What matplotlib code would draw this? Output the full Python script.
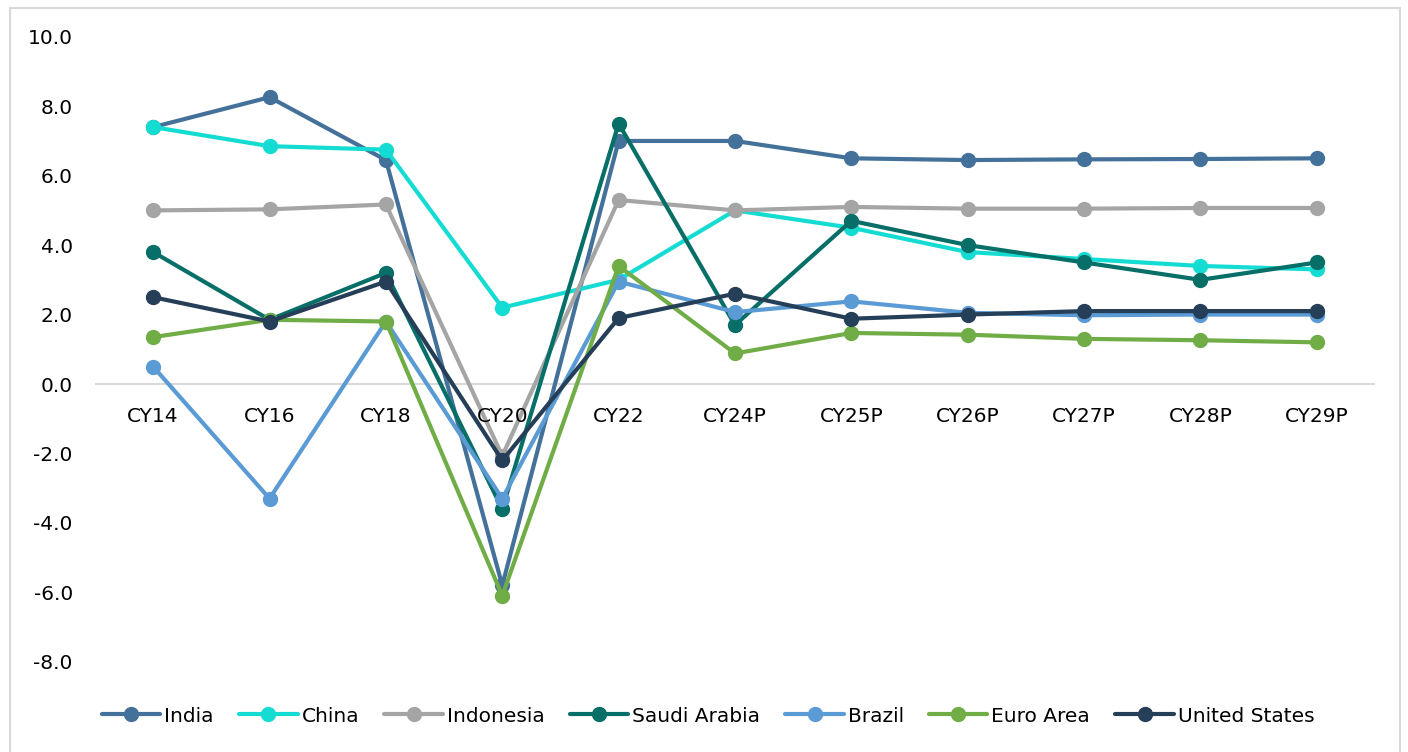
import matplotlib
matplotlib.use("Agg")
import matplotlib.pyplot as plt
from matplotlib.patches import Rectangle

categories = ["CY14", "CY16", "CY18", "CY20", "CY22", "CY24P", "CY25P", "CY26P", "CY27P", "CY28P", "CY29P"]
india = [7.4, 8.26, 6.45, -5.8, 7.0, 7.0, 6.5, 6.45, 6.47, 6.48, 6.5]
china = [7.4, 6.85, 6.75, 2.2, 3.0, 5.0, 4.5, 3.8, 3.6, 3.4, 3.3]
indonesia = [5.0, 5.03, 5.17, -2.07, 5.3, 5.0, 5.1, 5.05, 5.05, 5.07, 5.07]
saudi = [3.8, 1.85, 3.2, -3.6, 7.5, 1.7, 4.7, 4.0, 3.5, 3.0, 3.5]
brazil = [0.5, -3.3, 1.8, -3.3, 2.95, 2.07, 2.38, 2.05, 1.98, 2.0, 2.0]
euro = [1.35, 1.85, 1.8, -6.1, 3.4, 0.88, 1.47, 1.42, 1.3, 1.26, 1.2]
us = [2.5, 1.8, 2.95, -2.2, 1.9, 2.6, 1.88, 2.0, 2.1, 2.1, 2.1]

series = [
    ("India", india, "#44719A"),
    ("China", china, "#15DCD2"),
    ("Indonesia", indonesia, "#A5A5A5"),
    ("Saudi Arabia", saudi, "#076F67"),
    ("Brazil", brazil, "#5B9BD5"),
    ("Euro Area", euro, "#70AD47"),
    ("United States", us, "#263F58"),
]
yticks = [-8, -6, -4, -2, 0, 2, 4, 6, 8, 10]

FS = 14.5
plt.rcParams['font.family'] = ['DejaVu Sans']
fig = plt.figure(figsize=(14.08, 7.52), dpi=100)
fig.patch.set_facecolor("white")
fig.patches.append(Rectangle((10 / 1408, -0.01), 1390 / 1408, 1 - 8 / 752 + 0.01,
                             transform=fig.transFigure, fill=False,
                             edgecolor="#D9D9D9", linewidth=1.5))

ax = fig.add_axes([95 / 1408, (752 - 700) / 752, 1280 / 1408, (700 - 30) / 752])
x = list(range(len(categories)))
for name, vals, col in series:
    ax.plot(x, vals, color=col, linewidth=3.0, marker="o", markersize=10,
            label=name, solid_capstyle="round", solid_joinstyle="round")

ax.set_xlim(-0.5, len(categories) - 0.5)
ppu = 34.72
ax.set_ylim((384 - 700) / ppu, (384 - 30) / ppu)
ax.set_yticks(yticks)
ax.set_yticklabels([f"{v:.1f}" for v in yticks], fontsize=FS)
ax.tick_params(axis="y", length=0, pad=16)
ax.tick_params(axis="x", length=0)
ax.set_xticks([])
for s in ax.spines.values():
    s.set_visible(False)
ax.axhline(0, color="#D9D9D9", linewidth=1.5, zorder=0)
for xi, c in zip(x, categories):
    ax.text(xi, -0.95, c, ha="center", va="center", fontsize=FS, color="black")

leg = fig.legend(loc="center", bbox_to_anchor=(0.503, (752 - 716) / 752), ncol=7,
                 frameon=False, fontsize=FS, handlelength=2.9, handletextpad=0.2,
                 columnspacing=1.25)

fig.savefig("out.png", dpi=100, facecolor="white")
